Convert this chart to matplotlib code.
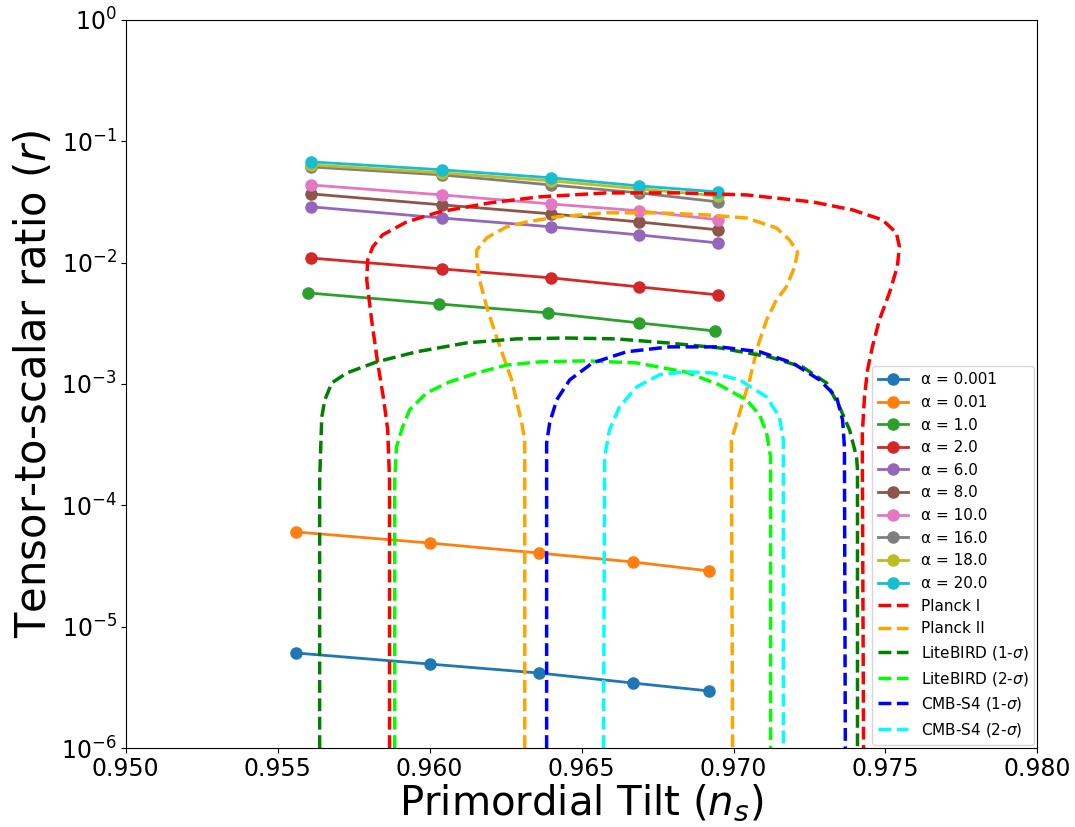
import numpy as np
import matplotlib
matplotlib.use('Agg')
import matplotlib.pyplot as plt

# inflation model predictions, one row per alpha
alphas = ['0.001', '0.01', '1.0', '2.0', '6.0', '8.0', '10.0', '16.0', '18.0', '20.0']
ns_low = [0.9556, 0.9600, 0.9636, 0.9667, 0.9692]
ns_mid = [0.9560, 0.9603, 0.9639, 0.9669, 0.9694]
ns_high = [0.9561, 0.9604, 0.9640, 0.9669, 0.9695]
ns_alpha = [ns_low, ns_low, ns_mid, ns_high, ns_high, ns_high, ns_high, ns_high, ns_high, ns_high]
r_alpha = [
    [6.07e-6, 4.92e-6, 4.15e-6, 3.43e-6, 2.95e-6],
    [6.03e-5, 4.89e-5, 4.04e-5, 3.41e-5, 2.88e-5],
    [5.62e-3, 4.56e-3, 3.85e-3, 3.18e-3, 2.73e-3],
    [1.09e-2, 8.87e-3, 7.48e-3, 6.30e-3, 5.41e-3],
    [2.88e-2, 2.33e-2, 1.97e-2, 1.69e-2, 1.45e-2],
    [3.68e-2, 2.99e-2, 2.52e-2, 2.16e-2, 1.86e-2],
    [4.36e-2, 3.61e-2, 3.04e-2, 2.67e-2, 2.25e-2],
    [6.14e-2, 5.28e-2, 4.36e-2, 3.75e-2, 3.16e-2],
    [6.38e-2, 5.48e-2, 4.71e-2, 4.05e-2, 3.54e-2],
    [6.76e-2, 5.81e-2, 4.99e-2, 4.28e-2, 3.82e-2],
]

# experimental contours (ns, r)
planck1_ns = [0.95868, 0.95868, 0.95862, 0.95849, 0.95829, 0.95809, 0.95793, 0.95796, 0.95813,
              0.95845, 0.95924, 0.96033, 0.96197, 0.96362, 0.96582, 0.96822, 0.97043, 0.97260,
              0.97391, 0.97490, 0.97536, 0.97546, 0.97539, 0.97513, 0.97480, 0.97457, 0.97441,
              0.97431, 0.97424, 0.97424, 0.97428]
planck1_r = [1e-6, 1.62e-4, 4.18e-4, 7.38e-4, 1.49e-3, 3.37e-3, 7.20e-3, 1.05e-2, 1.35e-2,
             1.69e-2, 2.16e-2, 2.62e-2, 3.10e-2, 3.48e-2, 3.75e-2, 3.75e-2, 3.61e-2, 3.16e-2,
             2.72e-2, 2.25e-2, 1.76e-2, 1.35e-2, 9.21e-3, 5.62e-3, 3.37e-3, 2.02e-3, 1.30e-3,
             7.81e-4, 3.94e-4, 2.36e-4, 1e-6]

planck2_ns = [0.96313, 0.96313, 0.96303, 0.96270, 0.96220, 0.96188, 0.96164, 0.96155, 0.96155,
              0.96188, 0.96253, 0.96319, 0.96418, 0.96582, 0.96747, 0.96911, 0.97043, 0.97141,
              0.97184, 0.97211, 0.97201, 0.97174, 0.97141, 0.97109, 0.97079, 0.97053, 0.97026,
              0.97003, 0.96993, 0.96997]
planck2_r = [1e-6, 3.45e-4, 4.77e-4, 1.08e-3, 2.44e-3, 4.31e-3, 7.20e-3, 1.05e-2, 1.27e-2,
             1.60e-2, 1.97e-2, 2.16e-2, 2.38e-2, 2.57e-2, 2.57e-2, 2.47e-2, 2.33e-2, 1.93e-2,
             1.54e-2, 1.22e-2, 9.21e-3, 6.30e-3, 4.92e-3, 3.37e-3, 2.02e-3, 1.08e-3, 6.46e-4,
             4.18e-4, 3.45e-4, 1e-6]

litebird1_ns = [0.95638, 0.95638, 0.95645, 0.95655, 0.95678, 0.95727, 0.95826, 0.95957, 0.96122,
                0.96286, 0.96451, 0.96615, 0.96780, 0.96954, 0.97118, 0.97227, 0.97306, 0.97349,
                0.97382, 0.97405, 0.97408, 0.97408]
litebird1_r = [1e-6, 1.62e-4, 5.34e-4, 7.38e-4, 1.02e-3, 1.23e-3, 1.52e-3, 1.84e-3, 2.18e-3,
               2.35e-3, 2.39e-3, 2.35e-3, 2.18e-3, 1.98e-3, 1.67e-3, 1.38e-3, 1.02e-3, 6.46e-4,
               4.18e-4, 2.50e-4, 1.95e-4, 1e-6]

litebird2_ns = [0.95885, 0.95885, 0.95891, 0.95911, 0.95934, 0.95990, 0.96066, 0.96155, 0.96253,
                0.96362, 0.96516, 0.96681, 0.96845, 0.96954, 0.97043, 0.97086, 0.97109, 0.97122,
                0.97122]
litebird2_r = [1e-6, 1.62e-4, 3.03e-4, 4.42e-4, 6.10e-4, 8.43e-4, 1.04e-3, 1.23e-3, 1.43e-3,
               1.52e-3, 1.55e-3, 1.49e-3, 1.25e-3, 9.81e-4, 7.38e-4, 5.55e-4, 3.94e-4, 2.50e-4,
               1e-6]

cmbs4_1_ns = [0.96385, 0.96385, 0.96395, 0.96418, 0.96461, 0.96536, 0.96648, 0.96789, 0.96954,
              0.97086, 0.97194, 0.97283, 0.97339, 0.97359, 0.97365, 0.97368]
cmbs4_1_r = [1e-6, 3.26e-4, 4.77e-4, 7.38e-4, 1.08e-3, 1.49e-3, 1.84e-3, 2.02e-3, 2.02e-3,
             1.84e-3, 1.49e-3, 1.08e-3, 7.81e-4, 5.05e-4, 3.03e-4, 1e-6]

cmbs4_2_ns = [0.96572, 0.96576, 0.96592, 0.96625, 0.96681, 0.96757, 0.96845, 0.96931, 0.97020,
              0.97109, 0.97151, 0.97164, 0.97164]
cmbs4_2_r = [1e-6, 2.50e-4, 4.18e-4, 6.46e-4, 9.44e-4, 1.19e-3, 1.26e-3, 1.23e-3, 1.08e-3,
             7.81e-4, 5.34e-4, 3.45e-4, 1e-6]

contours = [
    (planck1_ns, planck1_r, 'red', 'Planck I'),
    (planck2_ns, planck2_r, 'orange', 'Planck II'),
    (litebird1_ns, litebird1_r, 'green', r'LiteBIRD (1-$\sigma$)'),
    (litebird2_ns, litebird2_r, 'lime', r'LiteBIRD (2-$\sigma$)'),
    (cmbs4_1_ns, cmbs4_1_r, 'blue', r'CMB-S4 (1-$\sigma$)'),
    (cmbs4_2_ns, cmbs4_2_r, 'cyan', r'CMB-S4 (2-$\sigma$)'),
]

fig, ax = plt.subplots(figsize=(10.75, 8.27), dpi=100)
fig.subplots_adjust(left=0.117, right=0.965, top=0.976, bottom=0.0955)

for a, x, y in zip(alphas, ns_alpha, r_alpha):
    ax.plot(x, y, '-o', lw=2, markersize=8, label='α = ' + a)

for x, y, c, lab in contours:
    ax.plot(x, y, '--', color=c, lw=2.5, label=lab)

ax.set_yscale('log')
ax.set_xlim(0.950, 0.980)
ax.set_ylim(1e-6, 1)
ax.set_xticks(np.arange(0.950, 0.9801, 0.005))
ax.xaxis.set_major_formatter(matplotlib.ticker.FormatStrFormatter('%.3f'))
ax.yaxis.set_minor_locator(matplotlib.ticker.NullLocator())
ax.tick_params(labelsize=17, pad=3)

ax.set_xlabel(r'Primordial Tilt ($n_s$)', fontsize=29, labelpad=1)
ax.set_ylabel(r'Tensor-to-scalar ratio ($r$)', fontsize=30)
ax.legend(loc='lower right', fontsize=11, borderaxespad=0.2)

fig.savefig('out.png', dpi=100)
